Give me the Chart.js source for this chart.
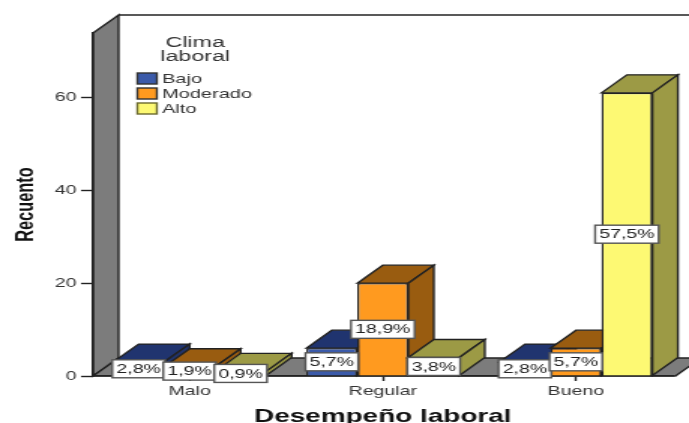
<!DOCTYPE html>
<html>
<head>
<meta charset="utf-8">
<style>
  html, body { margin: 0; padding: 0; background: #fff; overflow: hidden; }
  /* the chart is laid out narrow and widened to fill the 689px page */
  #myChart { display: block; transform: scaleX(1.5011); transform-origin: 0 0; }
</style>
<script src="https://cdn.jsdelivr.net/npm/chart.js@4"></script>
</head>
<body>
<canvas id="myChart" width="459" height="423"></canvas>
<script>
const categories = ["Malo", "Regular", "Bueno"];
const seriesNames = ["Bajo", "Moderado", "Alto"];
const bajo = [3, 6, 3];
const moderado = [2, 20, 6];
const alto = [1, 4, 61];
const bajoLabels = ["2,8%", "5,7%", "2,8%"];
const moderadoLabels = ["1,9%", "18,9%", "5,7%"];
const altoLabels = ["0,9%", "3,8%", "57,5%"];
const yTicks = [0, 20, 40, 60];

const frontColors = ["#3b5aa9", "#ff9a1f", "#fdf973"];
const shadeColors = ["#20346f", "#995c10", "#9c9a45"];
const lineColor = "#222";
const lineW = 1.4;
const wallColor = "#7c7c7c";
const font = "Arial, 'Liberation Sans', sans-serif";

// depth of the 3D walls and bars
const depthX = 17;
const depthY = 18;

function poly(ctx, pts, fill) {
  ctx.beginPath();
  pts.forEach((p, i) => i ? ctx.lineTo(p[0], p[1]) : ctx.moveTo(p[0], p[1]));
  ctx.closePath();
  ctx.fillStyle = fill;
  ctx.fill();
  ctx.strokeStyle = lineColor;
  ctx.lineWidth = lineW;
  ctx.stroke();
}

// Left wall, floor and back panel outline, drawn behind the axes
function drawWalls(chart) {
  const ctx = chart.ctx;
  const { left, right, top, bottom } = chart.chartArea;
  ctx.save();
  poly(ctx, [[left, top], [left + depthX, top - depthY], [left + depthX, bottom - depthY], [left, bottom]], wallColor);
  poly(ctx, [[left, bottom], [left + depthX, bottom - depthY], [right + depthX + 2, bottom - depthY], [right + 2, bottom]], wallColor);
  ctx.strokeStyle = lineColor;
  ctx.beginPath();
  ctx.moveTo(left + depthX, top - depthY);
  ctx.lineTo(chart.width, top - depthY);
  ctx.stroke();
  ctx.restore();
}

// Top and side faces first, then the library's own bar as the front face
function drawBars(chart) {
  const ctx = chart.ctx;
  chart.data.datasets.forEach((ds, d) => {
    chart.getDatasetMeta(d).data.forEach(bar => {
      const { x, y, base, width } = bar.getProps(["x", "y", "base", "width"], true);
      const x0 = x - width / 2;
      const x1 = x + width / 2;
      ctx.save();
      poly(ctx, [[x0, y], [x0 + depthX, y - depthY], [x1 + depthX, y - depthY], [x1, y]], shadeColors[d]);
      poly(ctx, [[x1, y], [x1 + depthX, y - depthY], [x1 + depthX, base - depthY], [x1, base]], shadeColors[d]);
      ctx.restore();
      bar.draw(ctx);
    });
  });
}

// White percentage boxes in the middle of each bar's front
function drawValueLabels(chart) {
  const ctx = chart.ctx;
  const texts = [bajoLabels, moderadoLabels, altoLabels];
  ctx.save();
  ctx.font = "13px " + font;
  ctx.textAlign = "center";
  ctx.textBaseline = "middle";
  chart.data.datasets.forEach((ds, d) => {
    chart.getDatasetMeta(d).data.forEach((bar, i) => {
      const { x, y, base } = bar.getProps(["x", "y", "base"], true);
      const cy = (y + base) / 2;
      const w = ctx.measureText(texts[d][i]).width + 5.5;
      ctx.fillStyle = "#fff";
      ctx.strokeStyle = "#555";
      ctx.lineWidth = lineW;
      ctx.fillRect(x - w / 2, cy - 9, w, 18);
      ctx.strokeRect(x - w / 2, cy - 9, w, 18);
      ctx.fillStyle = "#222";
      ctx.fillText(texts[d][i], x, cy + 0.5);
    });
  });
  ctx.restore();
}

function drawLegend(chart) {
  const ctx = chart.ctx;
  ctx.save();
  ctx.fillStyle = "#333";
  ctx.textBaseline = "middle";
  ctx.textAlign = "center";
  ctx.font = "15.5px " + font;
  ctx.fillText("Clima", 130, 43);
  ctx.fillText("laboral", 130, 57);
  ctx.textAlign = "left";
  ctx.font = "13.3px " + font;
  seriesNames.forEach((name, i) => {
    const y = 73 + i * 15;
    ctx.fillStyle = frontColors[i];
    ctx.fillRect(91.5, y, 13, 11);
    ctx.strokeStyle = i === 2 ? "#6b6a30" : "#333";
    ctx.lineWidth = lineW;
    ctx.strokeRect(91.5, y, 13, 11);
    ctx.fillStyle = "#333";
    ctx.fillText(name, 108, y + 6);
  });
  ctx.restore();
}

const box3d = {
  id: "box3d",
  beforeDraw: drawWalls,
  beforeDatasetsDraw(chart) {
    drawBars(chart);
    drawValueLabels(chart);
    drawLegend(chart);
    return false; // bars were already drawn above, in front-to-back order
  }
};

new Chart(document.getElementById("myChart"), {
  type: "bar",
  data: {
    labels: categories,
    datasets: [
      { label: seriesNames[0], data: bajo, backgroundColor: frontColors[0] },
      { label: seriesNames[1], data: moderado, backgroundColor: frontColors[1] },
      { label: seriesNames[2], data: alto, backgroundColor: frontColors[2] }
    ]
  },
  options: {
    responsive: false,
    animation: false,
    layout: { padding: { top: 33, right: 11, left: 0, bottom: 0 } },
    datasets: {
      bar: {
        categoryPercentage: 0.792,
        barPercentage: 1,
        borderColor: lineColor,
        borderWidth: lineW
      }
    },
    plugins: {
      legend: { display: false },
      tooltip: { enabled: false }
    },
    scales: {
      x: {
        grid: { display: true, offset: false, drawOnChartArea: false, tickLength: 5, tickWidth: lineW, color: lineColor },
        border: { color: lineColor, width: lineW },
        ticks: { color: "#333", font: { family: font, size: 13 }, padding: 3, maxRotation: 0 },
        title: {
          display: true,
          text: "Desempeño laboral",
          color: "#111",
          font: { family: font, size: 18.6, weight: "bold" },
          padding: { top: 0, bottom: -5 }
        },
        afterFit(scale) { scale.height = 47; }
      },
      y: {
        min: 0,
        max: 73.9,
        grid: { display: true, drawOnChartArea: false, tickLength: 8, tickWidth: lineW, color: lineColor },
        border: { color: lineColor, width: lineW },
        ticks: {
          includeBounds: false,
          stepSize: yTicks[1] - yTicks[0],
          color: "#333",
          font: { family: font, size: 13 },
          padding: 3
        },
        title: {
          display: true,
          text: "Recuento",
          color: "#111",
          font: { family: font, size: 16.4, weight: "bold" },
          padding: { top: 7.5, bottom: 0 }
        },
        afterFit(scale) { scale.width = 62; }
      }
    }
  },
  plugins: [box3d]
});
</script>
</body>
</html>
